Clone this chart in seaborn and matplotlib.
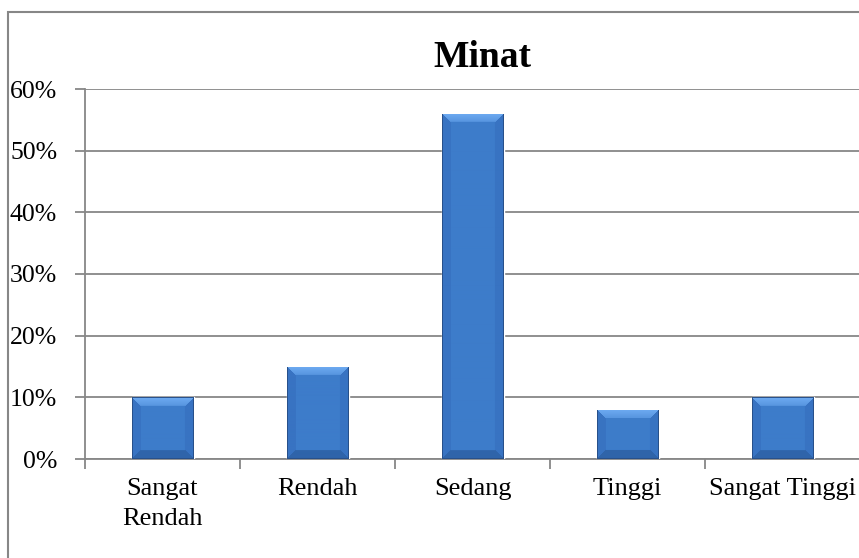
import numpy as np
import pandas as pd
import seaborn as sns
import matplotlib.pyplot as plt
from matplotlib.patches import Rectangle
from matplotlib.colors import to_rgb

kategori = ["Sangat\nRendah", "Rendah", "Sedang", "Tinggi", "Sangat Tinggi"]
persen = [10, 15, 56, 8, 10]
y_ticks = [0, 10, 20, 30, 40, 50, 60]
y_labels = ["0%", "10%", "20%", "30%", "40%", "50%", "60%"]

df = pd.DataFrame({"Kategori": kategori, "Persen": persen})

sns.set_style("white")
plt.rcParams['font.family'] = ['Liberation Serif', 'DejaVu Serif']
plt.rcParams['text.color'] = 'black'
plt.rcParams['xtick.color'] = 'black'
plt.rcParams['ytick.color'] = 'black'

fig = plt.figure(figsize=(8.59, 5.58), dpi=100)
ax = fig.add_axes([85 / 859, 1 - 459 / 558, 775 / 859, 370 / 558])

sns.barplot(data=df, x="Kategori", y="Persen", color="#3b78c6", width=0.4,
            saturation=1, ax=ax, zorder=3)


def bevel_img(w, h, b=9):
    # kotak bevel ala excel
    base = np.array(to_rgb("#3d7cca"))
    top = np.array(to_rgb("#6eabf2"))
    side = np.array(to_rgb("#3873c2"))
    bot = np.array(to_rgb("#2f64aa"))
    edge = np.array(to_rgb("#28508a"))
    img = np.zeros((h, w, 3))
    for i in range(h):
        for j in range(w):
            dt, db, dl, dr = i, h - 1 - i, j, w - 1 - j
            m = min(dt, db, dl, dr)
            if m == 0:
                c = edge
            elif m < b:
                if m == dt:
                    c = top + (base - top) * (dt / b) * 0.5
                elif m == db:
                    c = bot
                else:
                    c = side
            else:
                c = base
            img[i, j] = c
    return img


fig.canvas.draw()
px_per_unit = ax.transData.transform((0, 1))[1] - ax.transData.transform((0, 0))[1]
px_per_x = ax.transData.transform((1, 0))[0] - ax.transData.transform((0, 0))[0]
for p in list(ax.patches):
    x0, y0 = p.get_x(), p.get_y()
    w, h = p.get_width(), p.get_height()
    wp = max(int(round(w * px_per_x)), 4)
    hp = max(int(round(h * px_per_unit)), 4)
    im = ax.imshow(bevel_img(wp, hp), extent=(x0, x0 + w, y0, y0 + h),
                   aspect="auto", zorder=4, interpolation="bilinear")
    im.set_clip_path(p)

ax.set_xlim(-0.5, 4.5)
ax.set_ylim(0, 60)
ax.set_yticks(y_ticks)
ax.set_yticklabels(y_labels)
ax.set_xticks(range(len(kategori)))
ax.set_xticklabels(kategori, linespacing=1.45)
ax.set_xticks(np.arange(-0.5, 5, 1), minor=True)
ax.set_xlabel("")
ax.set_ylabel("")

ax.grid(axis="y", color="#878787", linewidth=1.3, zorder=0)
ax.set_axisbelow(True)
for s in ["top", "right"]:
    ax.spines[s].set_visible(False)
for s in ["left", "bottom"]:
    ax.spines[s].set_color("#878787")
    ax.spines[s].set_linewidth(1.3)

ax.tick_params(axis="y", left=True, length=7, width=1.3, color="#878787",
               labelsize=18.5, pad=13, labelcolor="black")
ax.tick_params(axis="x", which="major", bottom=False, length=0, labelsize=19,
               pad=14, labelcolor="black")
ax.tick_params(axis="x", which="minor", bottom=True, length=7, width=1.3, color="#878787")

fig.text(482 / 859, 1 - 67 / 558, "Minat", ha="center", va="baseline",
         fontsize=27, fontweight="bold", color="black")

fig.patches.append(Rectangle((8 / 859, -0.05), 1.2, 1 - 12 / 558 + 0.05,
                             transform=fig.transFigure, fill=False,
                             edgecolor="#878787", linewidth=1.5))

fig.savefig("out.png", dpi=100)
